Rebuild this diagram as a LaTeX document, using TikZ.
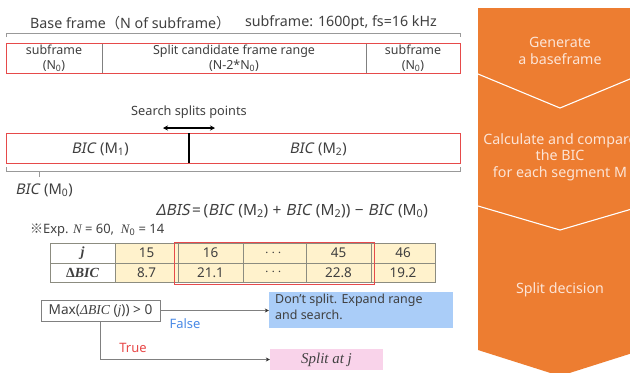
\documentclass[tikz,border=0pt]{standalone}
\usepackage{fontspec}
\usepackage{amsmath}
\setmainfont{Noto Sans}
\newfontfamily\cjk{Noto Sans CJK JP}
\newfontfamily\slsans{Noto Sans}[FakeSlant=0.2]
\newfontfamily\serifface{Liberation Serif}
\usetikzlibrary{arrows.meta}
\definecolor{txt}{HTML}{404040}
\definecolor{frred}{HTML}{E64A4A}
\definecolor{orng}{HTML}{ED7D31}
\definecolor{otxt}{HTML}{FCE4D6}
\definecolor{cellyel}{HTML}{FFF2CC}
\definecolor{cellln}{HTML}{8C8C80}
\definecolor{bluebox}{HTML}{AACDF8}
\definecolor{pinkbox}{HTML}{F9D3EA}
\definecolor{falseblue}{HTML}{4A8AE6}
\definecolor{truered}{HTML}{E84848}
\newcommand{\bic}[1]{{\slsans BIC}\,\,(M\textsubscript{#1})}
\tikzset{
  lbl/.style={text=txt, align=center, inner sep=0pt, font=\fontsize{12.5}{15}\selectfont},
  big/.style={text=txt, inner sep=0pt, font=\fontsize{14.3}{16}\selectfont},
  bicl/.style={text=txt, inner sep=0pt, font=\fontsize{14.8}{16}\selectfont},
  otext/.style={text=otxt, align=center, inner sep=0pt, font=\fontsize{14.3}{16.5}\selectfont},
  redframe/.style={draw=frred, line width=1pt},
  brack/.style={draw=gray!80, line width=0.6pt},
  cellbox/.style={draw=cellln, line width=0.6pt},
  celltxt/.style={text=txt, inner sep=0pt, font=\fontsize{13.5}{14}\selectfont},
  flow/.style={draw=gray, line width=0.7pt, -{Stealth[length=4pt,width=4pt,color=black!80]}},
}
\begin{document}
\begin{tikzpicture}[x=1bp,y=-1bp]
\useasboundingbox (0,0) rectangle (630,372);
\fill[white] (0,0) rectangle (630,372);

% ---------- orange chevrons ----------
\begin{scope}
\clip (0,0) rectangle (630,372);
\fill[orng] (478,8) -- (642,8) -- (642,350) -- (560,376) -- (478,350) -- cycle;
\draw[white, line width=1.1pt] (478,74) -- (560,108) -- (642,74);
\draw[white, line width=1.1pt] (478,206) -- (560,230) -- (642,206);
\end{scope}
\node[otext] (g1) at (560,51) {Generate\\a baseframe};
\node[otext] (g2) at (560,157) {Calculate and compare\\the BIC\\for each segment M};
\node[otext] (g3) at (560,290) {Split decision};

% ---------- base frame ----------
\node[big, anchor=west] (t1) at (30,23) {Base frame{\cjk （}N of subframe{\cjk ）}};
\node[big, anchor=east] (t2) at (437,23) {subframe: 1600pt, fs=16 kHz};
\draw[brack] (6,37) -- (6,33) -- (460,33) -- (460,37);
\draw[gray, line width=0.7pt] (102,43) -- (102,73) (366,43) -- (366,73);
\draw[redframe] (6,43) rectangle (460,73);
\node[lbl] (s1) at (54,58) {subframe\\(N\textsubscript{0})};
\node[lbl] (s2) at (234,58) {Split candidate frame range\\(N-2*N\textsubscript{0})};
\node[lbl] (s3) at (413,58) {subframe\\(N\textsubscript{0})};

% ---------- search split ----------
\node[lbl, font=\fontsize{12.8}{14}\selectfont] (ss) at (189,112) {Search splits points};
\coordinate (al) at (163,128);
\coordinate (ar) at (215,128);
\draw[black, line width=1.2pt, {Stealth[length=5pt,width=5pt]}-{Stealth[length=5pt,width=5pt]}] (al) -- (ar);
\draw[redframe] (6,133) rectangle (460,163);
\coordinate (dvt) at (189,133);
\coordinate (dvb) at (189,163);
\draw[black, line width=2pt] (dvt) -- (dvb);
\node[bicl] (m1) at (100,149) {\bic{1}};
\node[bicl] (m2) at (318,149) {\bic{2}};
\draw[brack] (6,167) -- (6,171) -- (460,171) -- (460,167);
\draw[brack] (39,171) -- (39,177);
\node[bicl] (m0) at (44,190) {\bic{0}};
\node[bicl, font=\fontsize{15.5}{16}\selectfont] (eq) at (292,211) {{\slsans ΔBIS}\,=\,(\bic{2}\;+\;\bic{2})\;−\;\bic{0}};

% ---------- example table ----------
\node[celltxt, anchor=west, font=\fontsize{13}{14}\selectfont] (ex) at (30,230) {{\cjk ※}Exp. {\serifface\itshape N} = 60,\ \ {\serifface\itshape N}\textsubscript{0} = 14};
\foreach \xa/\xb/\ta/\tb/\fc [count=\i] in {
  50/115/{{\serifface\bfseries\itshape\fontsize{14}{14}\selectfont j}}/{{\serifface\bfseries\fontsize{14}{14}\selectfont Δ\itshape BIC}}/white,
  115/178/15/8.7/cellyel,
  178/243/16/21.1/cellyel,
  243/306/{$\cdots$}/{$\cdots$}/cellyel,
  306/371/45/22.8/cellyel,
  371/435/46/19.2/cellyel}{
  \draw[cellbox, fill=\fc] (\xa,243) rectangle (\xb,263);
  \draw[cellbox, fill=\fc] (\xa,263) rectangle (\xb,282);
  \node[celltxt] (ca\i) at ({(\xa+\xb)/2},253) {\ta};
  \node[celltxt] (cb\i) at ({(\xa+\xb)/2},272.5) {\tb};
}
\draw[redframe] (174,242) rectangle (374,284);

% ---------- decision ----------
\node[draw=gray, line width=0.7pt, fill=white, minimum width=119bp, minimum height=21bp, inner sep=0pt, text=txt, font=\fontsize{13.7}{14}\selectfont] (mx) at (100.5,310.5) {Max({\serifface\itshape ΔBIC} ({\serifface\itshape j})) > 0};
\node[fill=bluebox, minimum width=184bp, minimum height=36bp, inner sep=0pt] (dn) at (361,310) {};
\node[text=txt, align=left, anchor=north west, inner sep=0pt, font=\fontsize{12.5}{15.5}\selectfont] (dnt) at (275,294) {Don’t split. Expand range\\and search.};
\node[fill=pinkbox, minimum width=113bp, minimum height=21bp, inner sep=0pt, text=txt, font=\serifface\itshape\fontsize{15}{15}\selectfont] (sp) at (326.5,359.5) {Split at j};
\draw[flow] (mx.east) -- (mx.east -| dn.west);
\draw[flow] (mx.south) |- (sp.west);
\node[text=falseblue, inner sep=0pt, font=\fontsize{13}{14}\selectfont] (fl) at (185,324) {False};
\node[text=truered, inner sep=0pt, font=\fontsize{13}{14}\selectfont] (tr) at (133,348) {True};
\end{tikzpicture}
\end{document}
